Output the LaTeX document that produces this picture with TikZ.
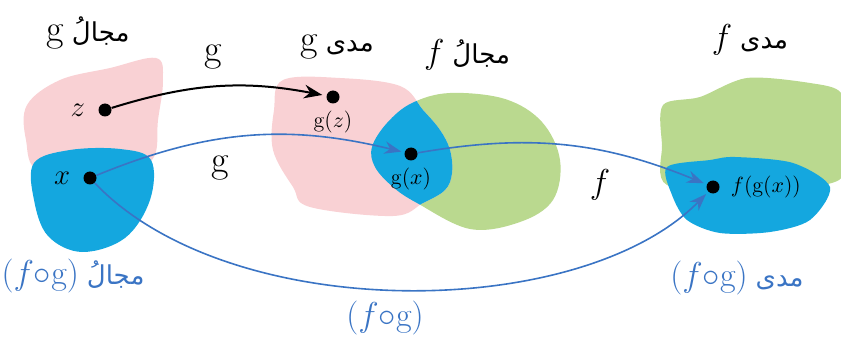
\documentclass[tikz,border=0pt]{standalone}
\usepackage{fontspec}
\newfontfamily\arabicfont[Script=Arabic]{DejaVu Sans}
\TeXXeTstate=1
\usetikzlibrary{arrows.meta, positioning}
\definecolor{setpink}{HTML}{F9D1D4}
\definecolor{setblue}{HTML}{14A7DF}
\definecolor{setgreen}{HTML}{BAD98F}
\definecolor{mapblue}{HTML}{3A74C4}
\newcommand{\artext}[1]{\hspace{4pt}{\fontsize{13}{15}\arabicfont\beginR #1\endR}}
\tikzset{
  dot/.style={circle, fill=black, inner sep=0pt, minimum size=6.5pt},
  maparrow/.style={-{Stealth[length=3mm, width=2.2mm]}, line width=0.8pt, color=mapblue, shorten >=1.5pt},
  gzarrow/.style={-{Stealth[length=3.2mm, width=2.4mm]}, line width=1pt, color=black, shorten >=2pt},
  setlabel/.style={font=\fontsize{19}{22}\selectfont},
  ptlabel/.style={font=\fontsize{14}{16}\selectfont},
  imglabel/.style={font=\fontsize{11}{13}\selectfont},
  bluelabel/.style={font=\fontsize{17}{20}\selectfont, text=mapblue}
}

\begin{document}
\begin{tikzpicture}[x=0.5pt, y=-0.5pt]
\useasboundingbox (0,0) rectangle (841,342);
\fill[setpink] plot[smooth cycle, tension=0.6] coordinates {(27,105) (60,80) (110,68) (156,58) (163,80) (158,120) (152,160) (110,178) (40,172) (26,140)};
\fill[setblue] plot[smooth cycle, tension=0.6] coordinates {(34,163) (70,150) (120,149) (151,160) (150,200) (125,238) (82,252) (48,236) (34,200)};
\fill[setgreen] plot[smooth cycle, tension=0.6] coordinates {(412,103) (450,93) (505,99) (542,122) (560,160) (553,200) (520,222) (470,229) (417,203) (393,187) (375,167) (372,147) (387,123)};
\fill[setpink] plot[smooth cycle, tension=0.6] coordinates {(283,80) (340,78) (400,86) (423,110) (440,130) (450,150) (452,173) (445,190) (423,203) (393,216) (310,207) (293,187) (273,150) (274,110)};
\begin{scope}
\clip plot[smooth cycle, tension=0.6] coordinates {(283,80) (340,78) (400,86) (423,110) (440,130) (450,150) (452,173) (445,190) (423,203) (393,216) (310,207) (293,187) (273,150) (274,110)};
\fill[setblue] plot[smooth cycle, tension=0.6] coordinates {(412,103) (450,93) (505,99) (542,122) (560,160) (553,200) (520,222) (470,229) (417,203) (393,187) (375,167) (372,147) (387,123)};
\end{scope}
\fill[setgreen] plot[smooth cycle, tension=0.5] coordinates {(663,105) (700,97) (747,78) (810,83) (841,93) (841,130) (839,180) (750,190) (667,185) (662,145)};
\fill[setblue] plot[smooth cycle, tension=0.5] coordinates {(667,167) (710,160) (735,157) (793,163) (830,187) (810,220) (770,232) (720,233) (687,220) (672,195)};

\node[dot] (z) at (105,110) {};
\node[dot] (x) at (90,178) {};
\node[dot] (gz) at (333,97) {};
\node[dot] (gx) at (411,154) {};
\node[dot] (fgx) at (713,187) {};

\node[ptlabel, left=3pt of z] (zlab) {$z$};
\node[ptlabel, left=3pt of x] (xlab) {$x$};
\node[imglabel, below=0pt of gz] (gzlab) {g($z$)};
\node[imglabel, below=0pt of gx] (gxlab) {g($x$)};
\node[imglabel, right=2pt of fgx] (fgxlab) {$f$(g($x$))};

\node[setlabel] (domg) at (88,33) {g\artext{مجالُ}};
\node[setlabel] (rangeg) at (337,47) {g\artext{مدى}};
\node[setlabel] (domf) at (467,55) {$f$\artext{مجالُ}};
\node[setlabel] (rangef) at (750,40) {$f$\artext{مدى}};
\node[setlabel] (glab1) at (213,57) {g};
\node[setlabel] (glab2) at (220,168) {g};
\node[setlabel] (flab) at (600,185) {$f$};

\node[bluelabel] (domfg) at (73,276) {($f$$\circ$g)\artext{مجالُ}};
\node[bluelabel] (fglab) at (385,318) {($f$$\circ$g)};
\node[bluelabel] (rangefg) at (737,278) {($f$$\circ$g)\artext{مدى}};

\draw[gzarrow] (z) to[bend left=14] (gz);
\draw[maparrow] (x) to[bend left=18] (gx);
\draw[maparrow] (gx) to[bend left=16] (fgx);
\draw[maparrow] (x) .. controls (230,325) and (580,322) .. (fgx);
\end{tikzpicture}
\end{document}
